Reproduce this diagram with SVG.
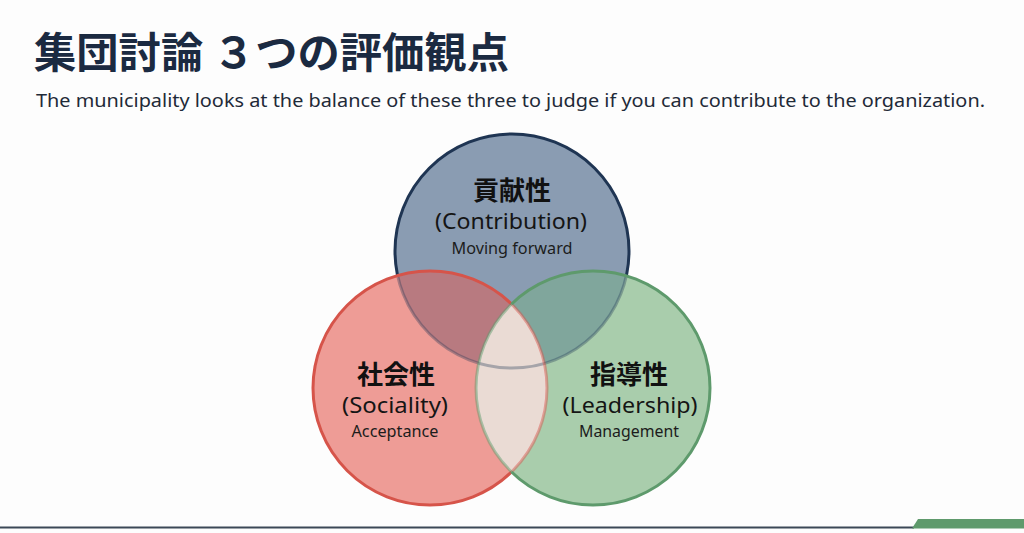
<svg xmlns="http://www.w3.org/2000/svg" width="1024" height="533" viewBox="0 0 1024 533">
<style>
.title{font-family:"Noto Sans CJK JP","Noto Sans",sans-serif;font-weight:700;fill:#1b2a41}
.sub{font-family:"Noto Sans","Open Sans",sans-serif;fill:#1f2a38}
.jp{font-family:"Noto Sans CJK JP",sans-serif;font-weight:700;fill:#111;text-anchor:middle}
.en{font-family:"Noto Sans","Open Sans",sans-serif;fill:#151515;text-anchor:middle}
.sm{font-family:"Noto Sans","Open Sans",sans-serif;fill:#1c1c1c;text-anchor:middle}
</style>
<defs>
<clipPath id="cBlue"><circle cx="512" cy="251" r="117"/></clipPath>
<clipPath id="cRed"><circle cx="430" cy="388" r="117"/></clipPath>
<clipPath id="cGreen"><circle cx="593" cy="388" r="117"/></clipPath>
<mask id="mBlue" maskUnits="userSpaceOnUse" x="0" y="0" width="1024" height="533">
<rect width="1024" height="533" fill="#fff"/>
<circle cx="430" cy="388" r="117" fill="#555"/>
<circle cx="593" cy="388" r="117" fill="#555"/>
</mask>
<mask id="mRed" maskUnits="userSpaceOnUse" x="0" y="0" width="1024" height="533">
<rect width="1024" height="533" fill="#fff"/>
<circle cx="593" cy="388" r="117" fill="#777"/>
</mask>
<mask id="mGreen" maskUnits="userSpaceOnUse" x="0" y="0" width="1024" height="533">
<rect width="1024" height="533" fill="#fff"/>
<circle cx="430" cy="388" r="117" fill="#777"/>
</mask>
</defs>
<rect width="1024" height="533" fill="#fdfdfd"/>
<text class="title" x="34" y="68" font-size="42" textLength="475" lengthAdjust="spacingAndGlyphs">集団討論 ３つの評価観点</text>
<text class="sub" x="36" y="107" font-size="18.5" textLength="949" lengthAdjust="spacingAndGlyphs">The municipality looks at the balance of these three to judge if you can contribute to the organization.</text>

<g id="circle-contribution">
<circle cx="512" cy="251" r="117" fill="#8a9cb2"/>
</g>
<g id="circle-sociality">
<circle cx="430" cy="388" r="117" fill="#ee9c96"/>
</g>
<g id="circle-leadership">
<circle cx="593" cy="388" r="117" fill="#a9cdac"/>
</g>
<g id="overlaps">
<circle cx="430" cy="388" r="117" fill="#b87a80" clip-path="url(#cBlue)"/>
<circle cx="593" cy="388" r="117" fill="#80a69c" clip-path="url(#cBlue)"/>
<circle cx="593" cy="388" r="117" fill="#eadbd4" clip-path="url(#cRed)"/>
</g>
<g id="outlines" fill="none" stroke-width="3">
<circle cx="512" cy="251" r="117" stroke="#1f3553" mask="url(#mBlue)"/>
<circle cx="430" cy="388" r="117" stroke="#d6544a" mask="url(#mRed)"/>
<circle cx="593" cy="388" r="117" stroke="#5e9a6c" mask="url(#mGreen)"/>
</g>

<g id="label-contribution">
<text class="jp" x="512" y="200" font-size="26">貢献性</text>
<text class="en" x="511" y="229" font-size="21" textLength="152" lengthAdjust="spacingAndGlyphs">(Contribution)</text>
<text class="sm" x="512" y="254" font-size="16" textLength="121" lengthAdjust="spacingAndGlyphs">Moving forward</text>
</g>
<g id="label-sociality">
<text class="jp" x="396" y="384" font-size="26">社会性</text>
<text class="en" x="395" y="413" font-size="21" textLength="106" lengthAdjust="spacingAndGlyphs">(Sociality)</text>
<text class="sm" x="395" y="437" font-size="16" textLength="87" lengthAdjust="spacingAndGlyphs">Acceptance</text>
</g>
<g id="label-leadership">
<text class="jp" x="629" y="384" font-size="26">指導性</text>
<text class="en" x="630" y="413" font-size="21" textLength="135" lengthAdjust="spacingAndGlyphs">(Leadership)</text>
<text class="sm" x="629" y="437" font-size="16" textLength="100" lengthAdjust="spacingAndGlyphs">Management</text>
</g>

<g id="footer">
<rect x="0" y="526.5" width="914" height="2" fill="#3b4857"/>
<polygon points="912,528.5 918,519 1024,519 1024,528.5" fill="#5f9a6c"/>
</g>
</svg>
